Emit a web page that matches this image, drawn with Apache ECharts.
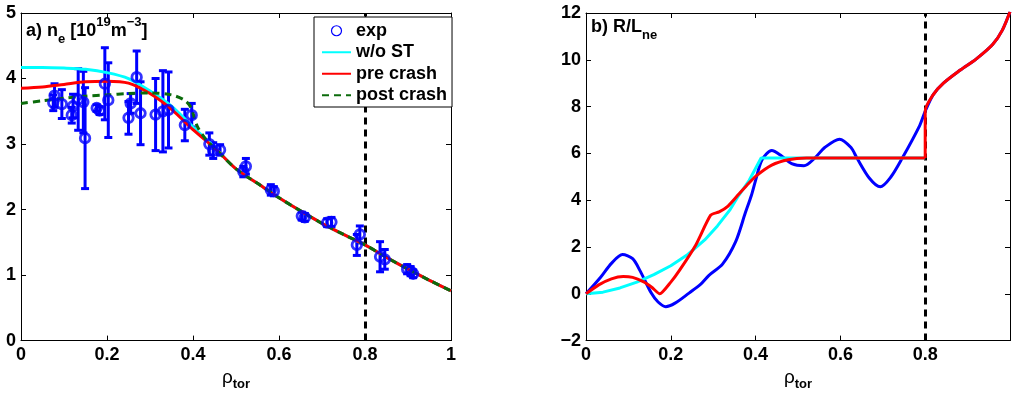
<!DOCTYPE html>
<html>
<head>
<meta charset="utf-8">
<script src="https://cdn.jsdelivr.net/npm/echarts@6/dist/echarts.min.js"></script>
<style>
  html, body { margin: 0; padding: 0; background: #fff; }
  #chart { width: 1013px; height: 396px; }
</style>
</head>
<body>
<div id="chart"></div>
<script>
  // a) measured density with error bars
  const expRho = [0.075, 0.078, 0.095, 0.118, 0.121, 0.133, 0.145, 0.149, 0.176, 0.183, 0.195, 0.203, 0.250, 0.255, 0.269, 0.278, 0.313, 0.330, 0.343, 0.381, 0.397, 0.438, 0.447, 0.463, 0.517, 0.523, 0.581, 0.588, 0.653, 0.660, 0.712, 0.722, 0.781, 0.788, 0.835, 0.846, 0.898, 0.906, 0.912];
  const expNe = [3.63, 3.74, 3.61, 3.44, 3.58, 3.68, 3.64, 3.09, 3.55, 3.51, 3.92, 3.67, 3.40, 3.62, 4.02, 3.47, 3.45, 3.50, 3.52, 3.29, 3.44, 3.00, 2.90, 2.91, 2.58, 2.66, 2.30, 2.28, 1.90, 1.88, 1.80, 1.81, 1.46, 1.62, 1.28, 1.24, 1.09, 1.06, 1.02];
  const expErr = [0.12, 0.18, 0.22, 0.12, 0.18, 0.47, 0.47, 0.77, 0.05, 0.06, 0.55, 0.57, 0.25, 0.15, 0.40, 0.48, 0.55, 0.62, 0.58, 0.24, 0.18, 0.17, 0.12, 0.08, 0.08, 0.12, 0.08, 0.07, 0.06, 0.06, 0.06, 0.07, 0.16, 0.13, 0.23, 0.15, 0.07, 0.07, 0.06];

  // a) fitted profiles
  const fitRho = [0, 0.05, 0.1, 0.15, 0.2, 0.25, 0.3, 0.35, 0.4, 0.45, 0.5, 0.55, 0.6, 0.65, 0.7, 0.75, 0.8, 0.85, 0.9, 0.95, 1];
  const neNoST = [4.17, 4.17, 4.16, 4.14, 4.09, 4.00, 3.81, 3.58, 3.26, 2.95, 2.62, 2.40, 2.18, 1.98, 1.79, 1.62, 1.46, 1.27, 1.09, 0.92, 0.76];
  const nePre = [3.85, 3.87, 3.91, 3.95, 3.96, 3.93, 3.77, 3.53, 3.22, 2.94, 2.62, 2.40, 2.18, 1.98, 1.79, 1.62, 1.46, 1.27, 1.09, 0.92, 0.76];
  const postRho = [0, 0.05, 0.1, 0.15, 0.2, 0.25, 0.3, 0.35, 0.38, 0.395, 0.41, 0.43, 0.45, 0.5, 0.55, 0.6, 0.65, 0.7, 0.75, 0.8, 0.85, 0.9, 0.95, 1];
  const nePost = [3.62, 3.66, 3.70, 3.73, 3.75, 3.77, 3.78, 3.75, 3.67, 3.56, 3.27, 3.07, 2.94, 2.62, 2.40, 2.18, 1.98, 1.79, 1.62, 1.46, 1.27, 1.09, 0.92, 0.76];

  // b) R/L_ne
  const gradRho = [0, 0.035, 0.06, 0.086, 0.11, 0.127, 0.154, 0.17, 0.188, 0.21, 0.243, 0.27, 0.29, 0.322, 0.353, 0.376, 0.39, 0.4, 0.415, 0.438, 0.462, 0.485, 0.514, 0.54, 0.563, 0.598, 0.625, 0.639, 0.668, 0.694, 0.719, 0.746, 0.787];
  const gradExp = [0, 0.72, 1.3, 1.68, 1.5, 1.0, 0.03, -0.35, -0.55, -0.4, 0.03, 0.4, 0.79, 1.27, 2.23, 3.47, 4.2, 4.85, 5.72, 6.12, 5.88, 5.56, 5.47, 5.81, 6.25, 6.61, 6.25, 5.8, 4.95, 4.57, 4.99, 5.8, 7.19];
  const tailRho = [0.8, 0.819, 0.843, 0.882, 0.92, 0.959, 0.982, 1.0];
  const tailGrad = [7.8, 8.51, 9.0, 9.55, 10.03, 10.65, 11.27, 12.05];
  const noSTRho = [0, 0.04, 0.08, 0.12, 0.16, 0.2, 0.24, 0.28, 0.31, 0.34, 0.36, 0.385, 0.413, 0.8];
  const gradNoST = [0, 0.07, 0.25, 0.5, 0.82, 1.2, 1.68, 2.3, 2.9, 3.6, 4.2, 4.85, 5.8, 5.8];
  const preRho = [0, 0.03, 0.06, 0.088, 0.11, 0.135, 0.155, 0.174, 0.2, 0.22, 0.259, 0.294, 0.314, 0.335, 0.36, 0.38, 0.4, 0.438, 0.477, 0.52, 0.6, 0.7, 0.8];
  const gradPre = [0, 0.38, 0.64, 0.74, 0.7, 0.52, 0.28, 0.0, 0.5, 0.99, 2.09, 3.36, 3.5, 3.75, 4.25, 4.65, 5.02, 5.5, 5.73, 5.8, 5.8, 5.8, 5.8];

  const sepRho = 0.8;

  function pairs(xs, ys) {
    return xs.map(function (x, i) { return [x, ys[i]]; });
  }

  const FONT = 'Liberation Sans';
  const BLUE = '#0000ff', CYAN = '#00ffff', RED = '#ff0000', GREEN = '#0b6b0b';

  function baseAxis(extra) {
    return Object.assign({
      type: 'value',
      axisLine: { show: true, onZero: false, lineStyle: { color: '#000', width: 1 } },
      axisTick: { show: true, inside: true, length: 5, lineStyle: { color: '#000', width: 1 } },
      splitLine: { show: false },
      axisLabel: { color: '#000', fontSize: 18, fontWeight: 'bold', fontFamily: FONT, margin: 5 }
    }, extra);
  }
  function mirror(extra) {
    let a = baseAxis(extra);
    a.axisLabel = { show: false };
    return a;
  }
  const rhoName = '{r|ρ}{s|tor}';
  const rhoNameStyle = {
    rich: {
      r: { fontSize: 19, fontFamily: FONT, color: '#000', lineHeight: 26 },
      s: { fontSize: 13, fontWeight: 'bold', fontFamily: FONT, color: '#000', lineHeight: 8, verticalAlign: 'bottom' }
    }
  };
  const titleRich = {
    m: { fontSize: 18, fontWeight: 'bold', fontFamily: FONT, color: '#000', lineHeight: 30 },
    s: { fontSize: 13, fontWeight: 'bold', fontFamily: FONT, color: '#000', lineHeight: 8, verticalAlign: 'bottom' },
    p: { fontSize: 13, fontWeight: 'bold', fontFamily: FONT, color: '#000', lineHeight: 16, verticalAlign: 'top' }
  };

  const sepLine = {
    silent: true, symbol: 'none', z: 1,
    label: { show: false },
    lineStyle: { color: '#000', type: [7, 5], width: 3 },
    emphasis: { disabled: true },
    data: [{ xAxis: sepRho }]
  };

  const chart = echarts.init(document.getElementById('chart'));
  const option = {
    animation: false,
    title: [
      { text: '{m|a) n}{s|e}{m| [10}{p|19}{m|m}{p|−3}{m|]}', left: 26, top: 16, padding: 0, textStyle: { rich: titleRich } },
      { text: '{m|b) R/L}{s|ne}', left: 591, top: 12, padding: 0, textStyle: { rich: titleRich } }
    ],
    legend: {
      left: 314, top: 17, orient: 'vertical',
      padding: [4, 5, 2, 7],
      backgroundColor: '#fff', borderColor: '#000', borderWidth: 1, borderRadius: 0,
      itemWidth: 29, itemHeight: 10, itemGap: 2,
      itemStyle: { opacity: 0 },
      textStyle: { fontSize: 18, fontWeight: 'bold', fontFamily: FONT, color: '#000', lineHeight: 19.5 },
      data: [
        { name: 'exp', itemStyle: { borderWidth: 1.2, opacity: 1 } },
        'w/o ST', 'pre crash', 'post crash'
      ]
    },
    grid: [
      { left: 21, top: 13, width: 430, height: 339 },
      { left: 586, top: 13, width: 428, height: 339 }
    ],
    xAxis: [
      baseAxis({ gridIndex: 0, min: 0, max: 1, interval: 0.2, name: rhoName, nameLocation: 'middle', nameGap: 15, nameTextStyle: rhoNameStyle }),
      mirror({ gridIndex: 0, min: 0, max: 1, interval: 0.2, position: 'top' }),
      baseAxis({ gridIndex: 1, min: 0, max: 1, interval: 0.2, name: rhoName, nameLocation: 'middle', nameGap: 15, nameTextStyle: rhoNameStyle }),
      mirror({ gridIndex: 1, min: 0, max: 1, interval: 0.2, position: 'top' })
    ],
    yAxis: [
      baseAxis({ gridIndex: 0, min: 0, max: 5, interval: 1 }),
      mirror({ gridIndex: 0, min: 0, max: 5, interval: 1, position: 'right' }),
      baseAxis({ gridIndex: 1, min: -2, max: 12, interval: 2 }),
      mirror({ gridIndex: 1, min: -2, max: 12, interval: 2, position: 'right' })
    ],
    series: [
      {
        name: 'exp error', type: 'custom', xAxisIndex: 0, yAxisIndex: 0, z: 2,
        data: expRho.map(function (x, i) { return [x, expNe[i], expErr[i]]; }),
        encode: { x: 0, y: 1 },
        renderItem: function (params, api) {
          const x = api.value(0), y = api.value(1), e = api.value(2);
          const top = api.coord([x, y + e]);
          const bot = api.coord([x, y - e]);
          const hw = 4;
          const st = { stroke: BLUE, lineWidth: 3 };
          return {
            type: 'group',
            children: [
              { type: 'line', shape: { x1: top[0], y1: top[1], x2: bot[0], y2: bot[1] }, style: st },
              { type: 'line', shape: { x1: top[0] - hw, y1: top[1], x2: top[0] + hw, y2: top[1] }, style: st },
              { type: 'line', shape: { x1: bot[0] - hw, y1: bot[1], x2: bot[0] + hw, y2: bot[1] }, style: st }
            ]
          };
        }
      },
      {
        name: 'exp', type: 'scatter', xAxisIndex: 0, yAxisIndex: 0, z: 3,
        symbol: 'circle', symbolSize: 9.5,
        itemStyle: { color: 'rgba(0,0,0,0)', borderColor: BLUE, borderWidth: 2.8 },
        data: pairs(expRho, expNe)
      },
      {
        name: 'w/o ST', type: 'line', xAxisIndex: 0, yAxisIndex: 0, z: 3,
        symbol: 'none', smooth: 0.3, color: CYAN,
        lineStyle: { color: CYAN, width: 3 },
        data: pairs(fitRho, neNoST)
      },
      {
        name: 'pre crash', type: 'line', xAxisIndex: 0, yAxisIndex: 0, z: 3,
        symbol: 'none', smooth: 0.3, color: RED,
        lineStyle: { color: RED, width: 3 },
        data: pairs(fitRho, nePre),
        markLine: sepLine
      },
      {
        name: 'post crash', type: 'line', xAxisIndex: 0, yAxisIndex: 0, z: 3,
        symbol: 'none', smooth: 0.3, color: GREEN,
        lineStyle: { color: GREEN, width: 3, type: [7, 5] },
        data: pairs(postRho, nePost)
      },
      {
        name: 'R/L exp', type: 'line', xAxisIndex: 2, yAxisIndex: 2, z: 3,
        symbol: 'none', smooth: 0.3,
        lineStyle: { color: BLUE, width: 3 },
        data: pairs(gradRho, gradExp).concat(pairs(tailRho, tailGrad)),
        markLine: sepLine
      },
      {
        name: 'R/L w/o ST', type: 'line', xAxisIndex: 2, yAxisIndex: 2, z: 3,
        symbol: 'none', smooth: false,
        lineStyle: { color: CYAN, width: 3 },
        data: pairs(noSTRho, gradNoST)
      },
      {
        name: 'R/L pre crash', type: 'line', xAxisIndex: 2, yAxisIndex: 2, z: 3,
        symbol: 'none', smooth: 0.2,
        lineStyle: { color: RED, width: 3 },
        data: pairs(preRho, gradPre)
      },
      {
        name: 'R/L pre crash edge', type: 'line', xAxisIndex: 2, yAxisIndex: 2, z: 3,
        symbol: 'none', smooth: 0.3,
        lineStyle: { color: RED, width: 3 },
        data: [[sepRho, gradPre[gradPre.length - 1]]].concat(pairs(tailRho, tailGrad))
      }
    ]
  };
  // right panel: minus sign as in the original, last x label falls off the page
  option.yAxis[2].axisLabel.formatter = function (v) { return v < 0 ? '−' + Math.abs(v) : String(v); };
  option.xAxis[2].axisLabel.formatter = function (v) { return v >= 1 ? '' : String(v); };
  chart.setOption(option);
</script>
</body>
</html>
